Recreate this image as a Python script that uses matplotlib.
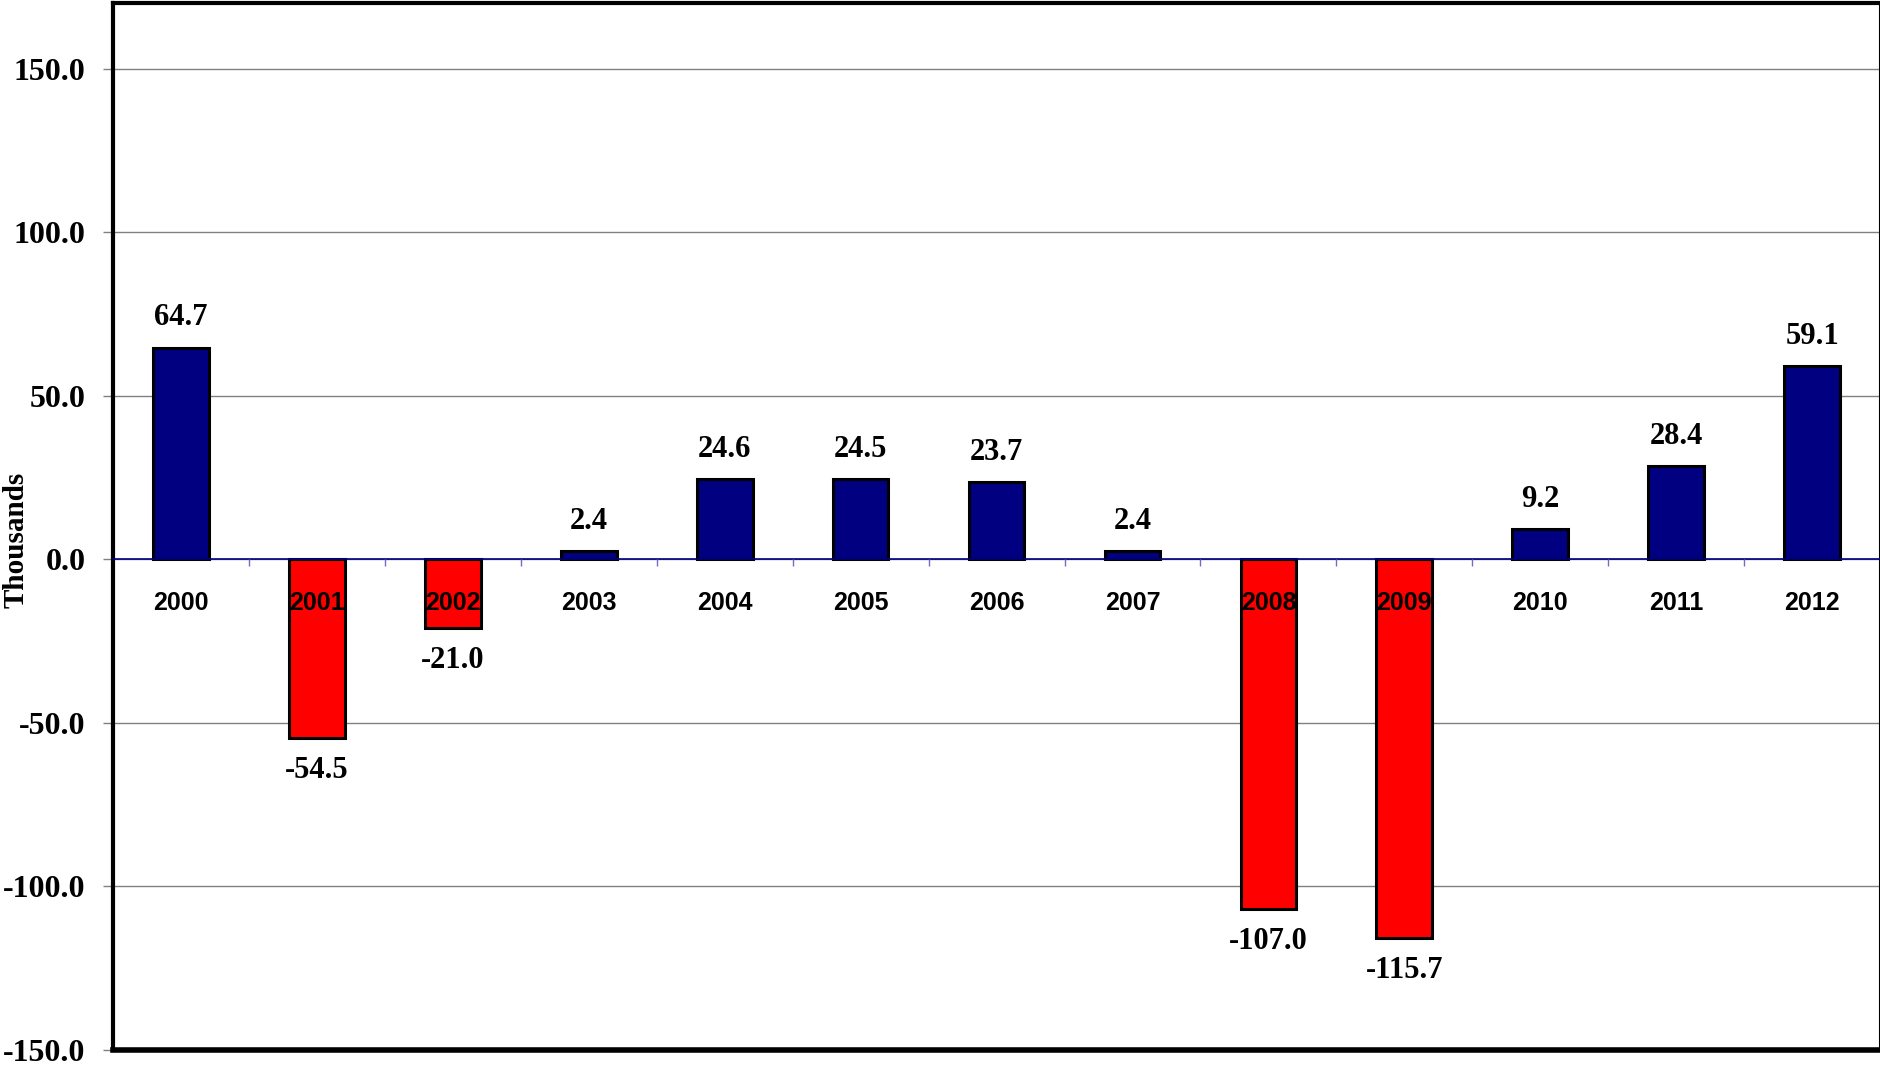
import numpy as np
import matplotlib
matplotlib.use('Agg')
import matplotlib.pyplot as plt

years = ['2000', '2001', '2002', '2003', '2004', '2005', '2006',
         '2007', '2008', '2009', '2010', '2011', '2012']
values = [64.7, -54.5, -21.0, 2.4, 24.6, 24.5, 23.7,
          2.4, -107.0, -115.7, 9.2, 28.4, 59.1]
yticks = [-150, -100, -50, 0, 50, 100, 150]

serif = 'Liberation Serif'
sans = 'Liberation Sans'

fig = plt.figure(figsize=(18.81, 10.66), dpi=100)
ax = fig.add_axes([0.0601, 0.015, 0.9394, 0.982])

x = np.arange(len(years))
colors = ['#000080' if v >= 0 else '#ff0000' for v in values]
ax.bar(x, values, width=0.41, color=colors, edgecolor='black', linewidth=2.2, zorder=2)

# horizontal grid behind the bars (axis labels must stay on top of bars)
for t in yticks:
    ax.axhline(t, color='#808080', linewidth=1, zorder=0.5)

# value labels above / below the bars
for xi, v in zip(x, values):
    off = 11 if v >= 0 else -13
    ax.annotate('%.1f' % v, (xi, v), xytext=(0, off), textcoords='offset points',
                ha='center', va='bottom' if v >= 0 else 'top',
                fontfamily=serif, fontweight='bold', fontsize=22)

ax.set_xlim(-0.5, len(years) - 0.5)
ax.set_ylim(-150, 170)

# zero line carries the category axis, thick frame around the plot
# (set_position resets the ticks, so do it before styling them)
ax.spines['bottom'].set_position(('data', 0))
ax.spines['bottom'].set_color('#000080')
ax.spines['bottom'].set_linewidth(1.2)
ax.spines['left'].set_linewidth(3)
ax.spines['top'].set_linewidth(3)
ax.spines['right'].set_linewidth(1.5)
ax.axhline(ax.get_ylim()[0], color='black', linewidth=4, clip_on=False, zorder=3)

ax.tick_params(axis='y', direction='out', length=7, width=1, color='#808080', pad=13)
ax.tick_params(axis='x', which='major', length=0, pad=23)
ax.tick_params(axis='x', which='minor', direction='out', length=5, width=1, color='#7070c0')

ax.set_yticks(yticks, ['%.1f' % t for t in yticks],
              fontfamily=serif, fontweight='bold', fontsize=23)
ax.set_xticks(x[:-1] + 0.5, minor=True)
ax.set_xticks(x, years, fontfamily=sans, fontweight='bold', fontsize=18)
ax.xaxis.set_zorder(3)

ax.set_ylabel('Thousands', fontfamily=serif, fontweight='bold', fontsize=21)
ax.yaxis.set_label_coords(-0.047, 0.487)

fig.savefig('out.png', dpi=100)
